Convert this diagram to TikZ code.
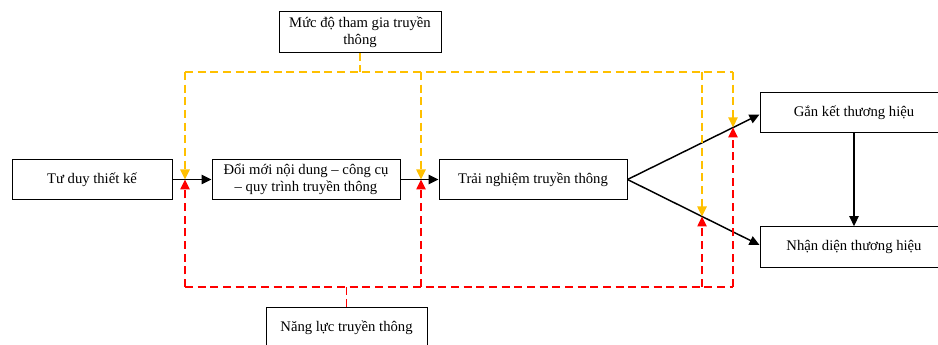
\documentclass[tikz,border=0pt]{standalone}
\usepackage{fontspec}
\setmainfont{Liberation Serif}
\usetikzlibrary{arrows.meta,calc}
\definecolor{ora}{HTML}{FFC000}
\definecolor{rd}{HTML}{FF0000}
\begin{document}
\begin{tikzpicture}[x=0.75pt,y=-0.75pt,
  box/.style={draw,line width=0.75pt,inner sep=0pt,align=center,font=\fontsize{11pt}{13pt}\selectfont,minimum height=30.5pt},
  arr/.style={line width=1.1pt,-{Triangle[length=7.5pt,width=7pt]}},
  odash/.style={color=ora,line width=1.1pt,dash pattern=on 6pt off 3.5pt},
  rdash/.style={color=rd,line width=1.1pt,dash pattern=on 6pt off 3.5pt},
  otip/.style={-{Triangle[length=7.5pt,width=7pt]}}]
\useasboundingbox (0,0) rectangle (938,345);
% boxes
\node[box,minimum width=121.5pt] (muc) at (360,32) {Mức độ tham gia truyền\\thông};
\node[box,minimum width=120pt] (tuduy) at (92,179.5) {Tư duy thiết kế};
\node[box,minimum width=141pt] (doimoi) at (306,179.5) {Đổi mới nội dung – công cụ\\– quy trình truyền thông};
\node[box,minimum width=141pt] (trai) at (533,179.5) {Trải nghiệm truyền thông};
\node[box,minimum width=141pt] (gan) at (854,112.5) {Gắn kết thương hiệu};
\node[box,minimum width=141pt] (nhan) at (854,247) {Nhận diện thương hiệu};
\node[box,minimum width=120.75pt] (nang) at (346.5,328) {Năng lực truyền thông};
% black connectors
\draw[arr] (tuduy.east) -- (doimoi.west);
\draw[arr] (doimoi.east) -- (trai.west);
\draw[arr] (trai.east) -- ($(gan.west)+(0,2)$);
\draw[arr] (trai.east) -- ($(nhan.west)+(0,-2)$);
\draw[arr] (gan.south) -- (nhan.north);
% meeting points
\coordinate (p1) at (185,179.5);
\coordinate (p2) at (421,179.5);
\coordinate (p3) at (702,216.5);
\coordinate (p4) at (733,127.4);
\coordinate (oL) at (185,72);
\coordinate (oR) at (733,72);
\coordinate (rL) at (185,287);
\coordinate (rR) at (733,287);
% orange dashed
\draw[odash] (muc.south) -- (muc.south |- oL);
\draw[odash] (oL) -- (oR);
\draw[odash,otip] (oL) -- (p1);
\draw[odash,otip] (p2 |- oL) -- (p2);
\draw[odash,otip] (p3 |- oL) -- (p3);
\draw[odash,otip] (oR) -- (p4);
% red dashed
\draw[rdash] (nang.north) -- (nang.north |- rL);
\draw[rdash] (rL) -- (rR);
\draw[rdash,otip] (rL) -- (p1);
\draw[rdash,otip] (p2 |- rL) -- (p2);
\draw[rdash,otip] (p3 |- rL) -- (p3);
\draw[rdash,otip] (rR) -- (p4);
\end{tikzpicture}
\end{document}
